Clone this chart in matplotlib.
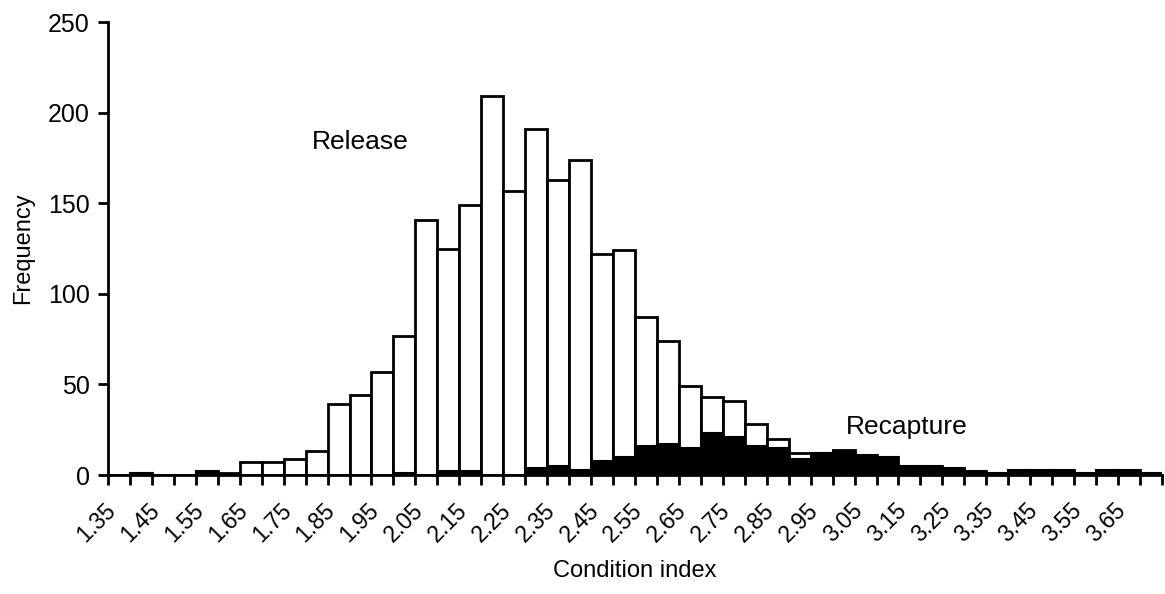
import matplotlib
matplotlib.use("Agg")
import matplotlib.pyplot as plt
import matplotlib.transforms as mtransforms
import numpy as np

plt.rcParams["font.family"] = ["Liberation Sans", "DejaVu Sans"]

# condition index classes (1.35 .. 3.70, step 0.05)
classes = ["1.35", "1.40", "1.45", "1.50", "1.55", "1.60", "1.65", "1.70",
           "1.75", "1.80", "1.85", "1.90", "1.95", "2.00", "2.05", "2.10",
           "2.15", "2.20", "2.25", "2.30", "2.35", "2.40", "2.45", "2.50",
           "2.55", "2.60", "2.65", "2.70", "2.75", "2.80", "2.85", "2.90",
           "2.95", "3.00", "3.05", "3.10", "3.15", "3.20", "3.25", "3.30",
           "3.35", "3.40", "3.45", "3.50", "3.55", "3.60", "3.65", "3.70"]

release = [0, 1, 0, 0, 2, 1, 7, 7, 9, 13, 39, 44, 57, 77, 141, 125,
           149, 209, 157, 191, 163, 174, 122, 124, 87, 74, 49, 43, 41, 28, 20, 12,
           12, 14, 11, 10, 5, 5, 4, 2, 1, 3, 3, 3, 1, 3, 3, 1]

recapture = [0, 1, 0, 0, 2, 0, 0, 0, 0, 0, 0, 0, 0, 1, 0, 2,
             2, 0, 0, 4, 5, 3, 8, 10, 16, 17, 15, 23, 21, 16, 15, 9,
             12, 13, 11, 10, 5, 5, 4, 2, 1, 3, 3, 3, 1, 3, 3, 1]

labelled = classes[::2]

fig = plt.figure(figsize=(11.65, 5.94), dpi=100)
ax = fig.add_axes([0.0927, 0.2003, 0.9047, 0.7626])

x = np.arange(len(classes))
ax.bar(x, release, width=1.0, color="white", edgecolor="black", linewidth=2)
rec = np.array(recapture)
keep = rec > 0
ax.bar(x[keep], rec[keep], width=1.0, color="black", edgecolor="black", linewidth=1.5)

ax.set_xlim(-0.5, len(classes) - 0.5)
ax.set_ylim(0, 250)
ax.set_yticks(np.arange(0, 251, 50))

# tick marks between classes, labels on every other class centre
ax.set_xticks(np.arange(-0.5, len(classes), 1.0))
ax.set_xticklabels([])
ax.set_xticks(x[::2], minor=True)
ax.set_xticklabels(labelled, minor=True, rotation=45, ha="right",
                   rotation_mode="anchor", fontsize=16.5)
ax.tick_params(axis="x", which="major", direction="out", length=7, width=2)
ax.tick_params(axis="x", which="minor", length=0, pad=17)
ax.tick_params(axis="y", direction="out", length=7, width=2, labelsize=18, pad=6)
offset = mtransforms.ScaledTranslation(-15 / 100, 0, fig.dpi_scale_trans)
for lab in ax.get_xticklabels(minor=True):
    lab.set_transform(lab.get_transform() + offset)

for side in ["top", "right"]:
    ax.spines[side].set_visible(False)
ax.spines["left"].set_linewidth(2)
ax.spines["bottom"].set_linewidth(2)

ax.set_xlabel("Condition index", fontsize=17, labelpad=10)
ax.set_ylabel("Frequency", fontsize=17, labelpad=10)

ax.text(8.8, 184, "Release", fontsize=19, va="center", ha="left")
ax.text(33.1, 26.5, "Recapture", fontsize=19, va="center", ha="left")

fig.savefig("out.png", dpi=100)
